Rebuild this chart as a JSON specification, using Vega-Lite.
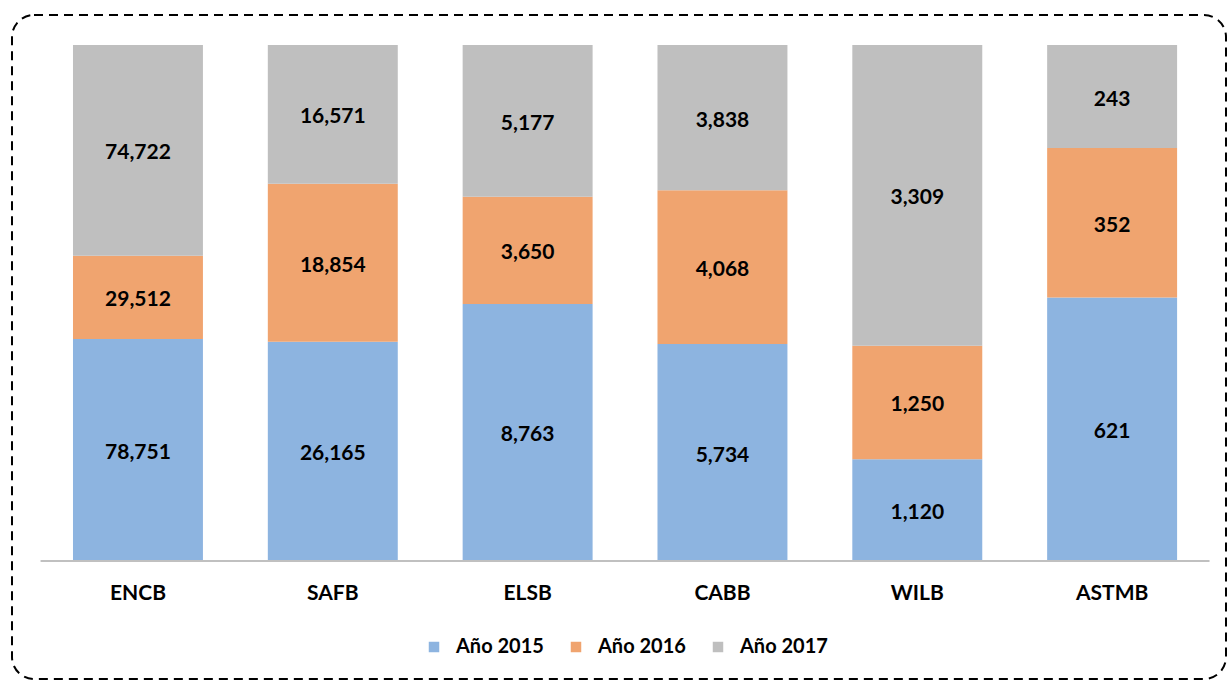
{
  "$schema": "https://vega.github.io/schema/vega-lite/v6.json",
  "autosize": {"type": "none"},
  "padding": {"left": 12, "top": 15, "right": 1, "bottom": 2},
  "width": 1214,
  "height": 664,
  "background": "white",
  "config": {
    "view": {"stroke": "#000000", "strokeWidth": 2, "strokeDash": [9, 6], "cornerRadius": 22},
    "font": "Lato"
  },
  "data": {
    "values": [
      {"school": "ENCB", "year": "Año 2015", "value": 78751},
      {"school": "ENCB", "year": "Año 2016", "value": 29512},
      {"school": "ENCB", "year": "Año 2017", "value": 74722},
      {"school": "SAFB", "year": "Año 2015", "value": 26165},
      {"school": "SAFB", "year": "Año 2016", "value": 18854},
      {"school": "SAFB", "year": "Año 2017", "value": 16571},
      {"school": "ELSB", "year": "Año 2015", "value": 8763},
      {"school": "ELSB", "year": "Año 2016", "value": 3650},
      {"school": "ELSB", "year": "Año 2017", "value": 5177},
      {"school": "CABB", "year": "Año 2015", "value": 5734},
      {"school": "CABB", "year": "Año 2016", "value": 4068},
      {"school": "CABB", "year": "Año 2017", "value": 3838},
      {"school": "WILB", "year": "Año 2015", "value": 1120},
      {"school": "WILB", "year": "Año 2016", "value": 1250},
      {"school": "WILB", "year": "Año 2017", "value": 3309},
      {"school": "ASTMB", "year": "Año 2015", "value": 621},
      {"school": "ASTMB", "year": "Año 2016", "value": 352},
      {"school": "ASTMB", "year": "Año 2017", "value": 243}
    ]
  },
  "encoding": {
    "x": {
      "field": "school",
      "type": "nominal",
      "sort": null,
      "scale": {"paddingInner": 0.333, "paddingOuter": 0.282, "align": 0.555},
      "axis": {
        "title": null,
        "orient": "bottom",
        "offset": -118,
        "domain": false,
        "ticks": false,
        "tickSize": 0,
        "labelAngle": 0,
        "labelFont": "Lato",
        "labelFontSize": 21,
        "labelFontWeight": "bold",
        "labelColor": "#000000",
        "labelBaseline": "middle",
        "labelPadding": 32
      }
    }
  },
  "layer": [
    {
      "mark": {"type": "bar"},
      "encoding": {
        "y": {
          "field": "value",
          "type": "quantitative",
          "stack": "normalize",
          "scale": {"domain": [-0.2287, 1.0581], "nice": false, "zero": false},
          "axis": null
        },
        "color": {
          "field": "year",
          "type": "nominal",
          "scale": {"domain": ["Año 2015", "Año 2016", "Año 2017"], "range": ["#8DB4E0", "#F0A46F", "#BFBFBF"]},
          "legend": {
            "title": null,
            "orient": "none",
            "direction": "horizontal",
            "legendX": 412,
            "legendY": 622,
            "padding": 0,
            "symbolType": "square",
            "symbolSize": 110,
            "symbolStrokeWidth": 0,
            "labelFont": "Lato",
            "labelFontSize": 20,
            "labelFontWeight": "bold",
            "labelColor": "#000000",
            "labelOffset": 12,
            "columnPadding": 22
          }
        },
        "order": {"field": "year", "type": "nominal", "sort": "ascending"}
      }
    },
    {
      "mark": {"type": "text", "font": "Lato", "fontSize": 21, "fontWeight": "bold", "color": "#000000", "baseline": "middle", "align": "center", "dy": 3},
      "encoding": {
        "y": {"field": "value", "type": "quantitative", "stack": "normalize", "bandPosition": 0.5},
        "detail": {"field": "year", "type": "nominal"},
        "order": {"field": "year", "type": "nominal", "sort": "ascending"},
        "text": {"field": "value", "type": "quantitative", "format": ",d"}
      }
    },
    {
      "data": {"values": [{"a": "ENCB", "b": "ASTMB"}]},
      "mark": {"type": "rule", "color": "#C0C0C0", "strokeWidth": 2, "xOffset": -97.4, "x2Offset": 97.4},
      "encoding": {
        "x": {"field": "a", "type": "nominal", "sort": null},
        "x2": {"field": "b"},
        "y": {"datum": 0}
      }
    }
  ]
}
